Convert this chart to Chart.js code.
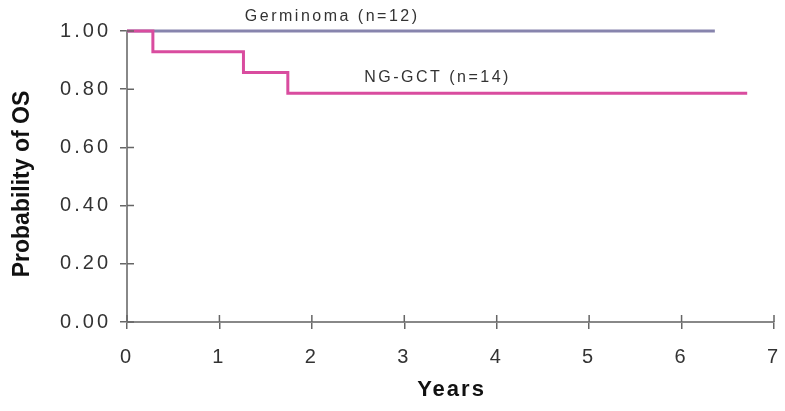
<!DOCTYPE html>
<html>
<head>
<meta charset="utf-8">
<script src="https://cdn.jsdelivr.net/npm/chart.js@4.4.1/dist/chart.umd.min.js"></script>
<style>
html,body{margin:0;padding:0;background:#fff;}
canvas{display:block;}
</style>
</head>
<body>
<canvas id="c" width="785" height="411"></canvas>
<script>
// ---- data ----
const xTickValues = [0, 1, 2, 3, 4, 5, 6, 7];
const yTickValues = [0, 0.2, 0.4, 0.6, 0.8, 1.0];
const germinomaX = [0, 6.36];
const germinomaY = [1.0, 1.0];
const ngctX = [0, 0.28, 1.26, 1.74, 6.71];
const ngctY = [1.0, 0.929, 0.857, 0.786, 0.786];
const seriesNames = ['Germinoma (n=12)', 'NG-GCT (n=14)'];
const labelPos = [[2.22, 1.048], [3.36, 0.841]];
const axisTitles = {x: 'Years', y: 'Probability of OS'};

const toPoints = (xs, ys) => xs.map((x, i) => ({x: x, y: ys[i]}));

const decor = {
  id: 'decor',
  beforeDraw(chart) {
    chart.ctx.letterSpacing = '3px';
  },
  afterDatasetsDraw(chart) {
    const ctx = chart.ctx;
    const xs = chart.scales.x, ys = chart.scales.y;
    const a = chart.chartArea;
    ctx.save();
    ctx.strokeStyle = '#666';
    ctx.lineWidth = 1.5;
    ctx.beginPath();
    xTickValues.forEach(v => {
      const px = xs.getPixelForValue(v);
      ctx.moveTo(px, a.bottom); ctx.lineTo(px, a.bottom - 7);
    });
    yTickValues.forEach(v => {
      const py = ys.getPixelForValue(v);
      ctx.moveTo(a.left, py); ctx.lineTo(a.left + 7, py);
    });
    ctx.stroke();
    // series labels
    ctx.fillStyle = '#333';
    ctx.font = '16px "Liberation Sans", Arial, sans-serif';
    ctx.letterSpacing = '2.5px';
    ctx.textAlign = 'center';
    ctx.textBaseline = 'middle';
    seriesNames.forEach((n, i) => {
      ctx.fillText(n, xs.getPixelForValue(labelPos[i][0]), ys.getPixelForValue(labelPos[i][1]));
    });
    // axis titles
    ctx.fillStyle = '#111';
    ctx.font = 'bold 22px "Liberation Sans", Arial, sans-serif';
    ctx.letterSpacing = '2px';
    ctx.fillText(axisTitles.x, (a.left + a.right) / 2 + 1, 390);
    ctx.save();
    ctx.translate(23, 184);
    ctx.rotate(-Math.PI / 2);
    ctx.font = 'bold 23px "Liberation Sans", Arial, sans-serif';
    ctx.letterSpacing = '0px';
    ctx.fillText(axisTitles.y, 0, 0);
    ctx.restore();
    ctx.restore();
  }
};

new Chart(document.getElementById('c'), {
  type: 'line',
  data: {
    datasets: [
      {
        label: seriesNames[0],
        data: toPoints(germinomaX, germinomaY),
        borderColor: '#8784ad',
        borderWidth: 3,
        pointRadius: 0,
        stepped: 'before',
        fill: false,
        clip: false,
        order: 1
      },
      {
        label: seriesNames[1],
        data: toPoints(ngctX, ngctY),
        borderColor: '#d94c9f',
        borderWidth: 3,
        pointRadius: 0,
        stepped: 'before',
        fill: false,
        clip: false,
        order: 0
      }
    ]
  },
  options: {
    responsive: false,
    animation: false,
    devicePixelRatio: 1,
    layout: {padding: {top: 31, right: 11, left: 0, bottom: 0}},
    plugins: {legend: {display: false}, tooltip: {enabled: false}},
    scales: {
      x: {
        type: 'linear',
        min: 0, max: 7,
        afterFit(s) { s.height = 89; s.paddingLeft = 0; s.paddingRight = 0; },
        afterBuildTicks(s) { s.ticks = xTickValues.map(v => ({value: v})); },
        ticks: {
          color: '#333',
          font: {size: 20, family: '"Liberation Sans", Arial, sans-serif'},
          padding: 16,
          maxRotation: 0,
          autoSkip: false,
          callback: v => String(v)
        },
        grid: {drawOnChartArea: false, drawTicks: true, tickLength: 7, color: '#666', lineWidth: 1.5},
        border: {display: true, color: '#888', width: 2}
      },
      y: {
        min: 0, max: 1,
        afterFit(s) { s.width = 127; s.paddingTop = 0; s.paddingBottom = 0; },
        afterBuildTicks(s) { s.ticks = yTickValues.map(v => ({value: v})); },
        ticks: {
          color: '#333',
          font: {size: 20, family: '"Liberation Sans", Arial, sans-serif'},
          padding: 9,
          callback: v => Number(v).toFixed(2)
        },
        grid: {drawOnChartArea: false, drawTicks: true, tickLength: 7, color: '#666', lineWidth: 1.5},
        border: {display: true, color: '#888', width: 2}
      }
    }
  },
  plugins: [decor]
});
</script>
</body>
</html>
